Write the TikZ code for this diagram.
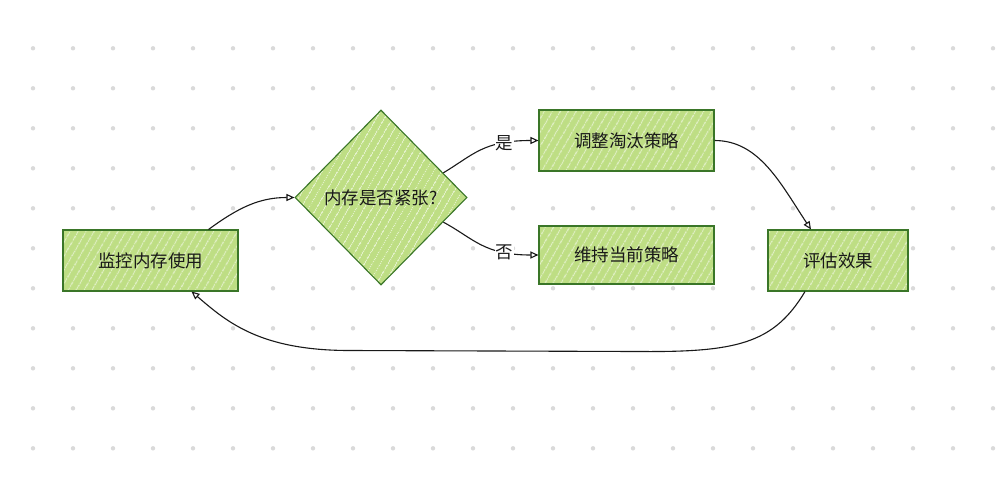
\documentclass[tikz,border=0pt]{standalone}
\usepackage{fontspec}
\setmainfont{Noto Sans CJK SC}
\usetikzlibrary{shapes.geometric,arrows.meta,patterns.meta,calc}
\definecolor{lgreen}{RGB}{190,222,132}
\definecolor{bgreen}{RGB}{58,118,40}
\definecolor{dotgray}{RGB}{218,218,218}
\definecolor{ink}{RGB}{25,25,25}
\tikzset{
  shapebase/.style={draw=bgreen, line width=1.1pt, preaction={fill=lgreen},
    pattern={Lines[angle=60,distance=6.5pt,line width=1pt]}, pattern color=white!55!lgreen,
    text=ink, font=\fontsize{17.5pt}{19pt}\selectfont, inner sep=0pt},
  boxnode/.style={shapebase, rectangle, minimum height=61pt},
  decnode/.style={shapebase, diamond, aspect=1, minimum width=172pt, minimum height=175pt},
  conn/.style={draw=ink, line width=1.1pt, -{Triangle[open,length=8pt,width=7pt,line width=1.1pt]}},
  lbl/.style={fill=white, inner sep=1pt, text=ink, font=\fontsize{17.5pt}{19pt}\selectfont}
}
\begin{document}
\begin{tikzpicture}[x=1pt,y=-1pt]
\useasboundingbox (0,0) rectangle (1000,476);
\fill[white] (0,0) rectangle (1000,476);
\foreach \i in {0,...,24}{
  \foreach \j in {0,...,10}{
    \fill[dotgray] (33+40*\i,48.3+40*\j) circle (2.2pt);
  }
}
\node[boxnode, minimum width=175pt] (m) at (150.5,260.5) {监控内存使用};
\node[decnode] (d) at (381,197.5) {内存是否紧张?};
\node[boxnode, minimum width=175pt] (a) at (626.5,140.5) {调整淘汰策略};
\node[boxnode, minimum width=175pt, minimum height=58pt] (k) at (626.5,255) {维持当前策略};
\node[boxnode, minimum width=140pt] (e) at (838,260.5) {评估效果};

\coordinate (m1) at ([xshift=58pt]m.north);
\coordinate (dur) at ($(d.north)!0.72!(d.east)$);
\coordinate (dlr) at ($(d.south)!0.72!(d.east)$);
\coordinate (etop) at ([xshift=-27pt]e.north);
\coordinate (ebot) at ([xshift=-33pt]e.south);
\coordinate (mbot) at ([xshift=41pt]m.south);

\draw[conn] (m1) .. controls ($(m1)+(30,-22)$) and ($(d.west)+(-35,0)$) .. (d.west);
\draw[conn] (dur) .. controls ($(dur)+(30,-18)$) and ($(a.west)+(-55,0)$) .. (a.west)
  node[lbl, pos=0.75] (yes) {是};
\draw[conn] (dlr) .. controls ($(dlr)+(30,16)$) and ($(k.west)+(-55,0)$) .. (k.west)
  node[lbl, pos=0.75] (no) {否};
\draw[conn] (a.east) .. controls ($(a.east)+(45,0)$) and ($(etop)+(-30,-45)$) .. (etop);
\draw[conn] (ebot) .. controls ($(ebot)+(-30,50)$) and ($(ebot)+(-65,60)$) .. ($(ebot)+(-155,60)$)
  -- ($(mbot)+(158,59)$) .. controls ($(mbot)+(68,59)$) and ($(mbot)+(35,30)$) .. (mbot);
\end{tikzpicture}
\end{document}
